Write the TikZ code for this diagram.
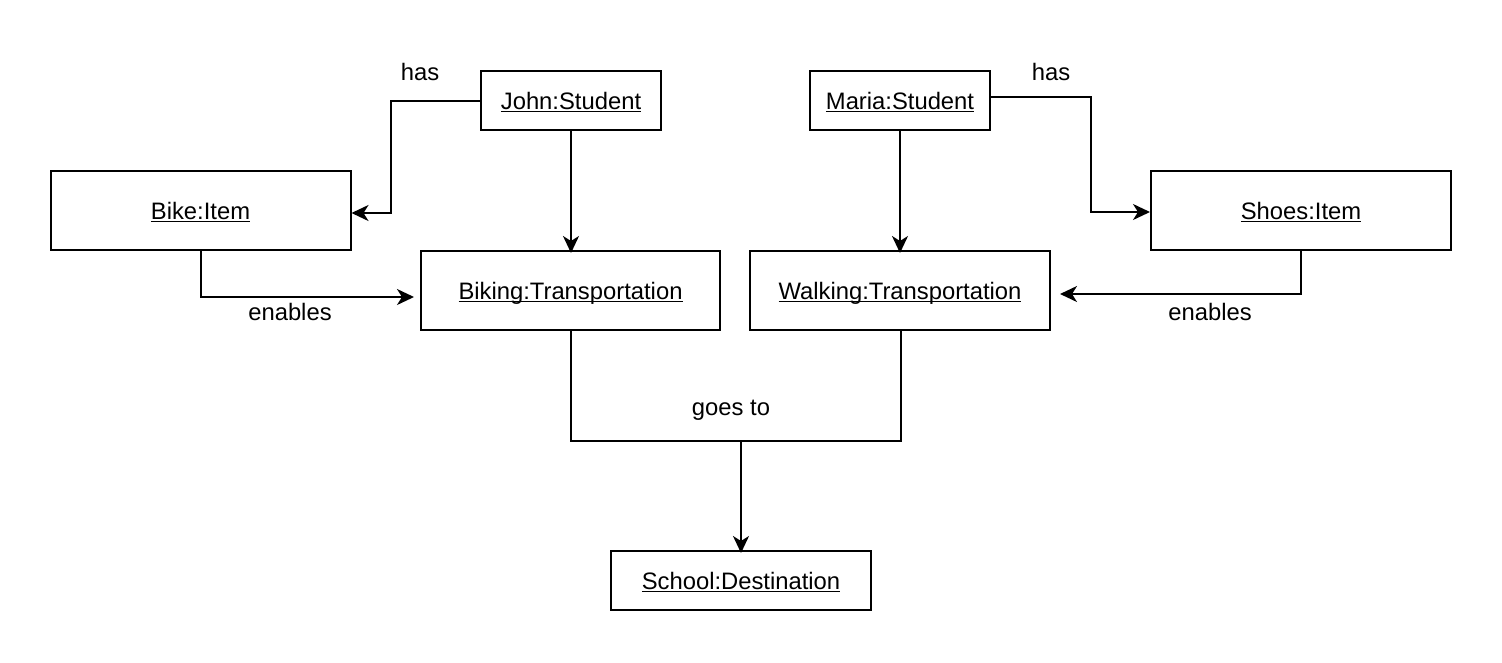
\documentclass[tikz,border=0pt]{standalone}
\usepackage{fontspec}
\setmainfont{Liberation Sans}
\usetikzlibrary{arrows.meta}
\newcommand\ulx[1]{\setbox0\hbox{#1}\rlap{\rule[-3.2pt]{\wd0}{1.7pt}}\box0}
\tikzset{
  obj/.style={draw, line width=2pt, minimum height=59pt, inner sep=0pt, text height=20pt, text depth=3pt, font=\fontsize{23.8}{28}\selectfont},
  lbl/.style={font=\fontsize{23.8}{28}\selectfont, inner sep=0pt},
  conn/.style={line width=2pt, -{Stealth[length=17pt,width=16pt,inset=5pt]}},
  plain/.style={line width=2pt}
}
\begin{document}
\begin{tikzpicture}[x=1pt,y=-1pt]
\useasboundingbox (0,0) rectangle (1502,662);
\node[obj, minimum width=180pt] (john) at (571,100.5) {\ulx{John:Student}};
\node[obj, minimum width=180pt] (maria) at (900,100.5) {\ulx{Maria:Student}};
\node[obj, minimum width=300pt, minimum height=79pt] (bike) at (200.5,210.5) {\ulx{Bike:Item}};
\node[obj, minimum width=300pt, minimum height=79pt] (shoes) at (1301,210.5) {\ulx{Shoes:Item}};
\node[obj, minimum width=299pt, minimum height=79pt] (biking) at (570.5,290.5) {\ulx{Biking:Transportation}};
\node[obj, minimum width=300pt, minimum height=79pt] (walking) at (900,290.5) {\ulx{Walking:Transportation}};
\node[obj, minimum width=260pt] (school) at (741,580.5) {\ulx{School:Destination}};
\coordinate (jb1) at (391,101);
\coordinate (jb2) at (391,213);
\coordinate (ms1) at (1091,97);
\coordinate (ms2) at (1091,212);
\coordinate (bb1) at (201,297);
\coordinate (sw1) at (1301,294);
\coordinate (g1) at (571,441);
\coordinate (g2) at (901,441);
\coordinate (g3) at (741,441);
\draw[conn] (john.west |- jb1) -- (jb1) -- (jb2) -- (bike.east |- jb2);
\draw[conn] (john.south) -- ([yshift=-3pt]biking.north -| john.south);
\draw[conn] (maria.south) -- ([yshift=-3pt]walking.north -| maria.south);
\draw[conn] (maria.east |- ms1) -- (ms1) -- (ms2) -- (shoes.west |- ms2);
\draw[conn] (bike.south -| bb1) -- (bb1) -- ([xshift=-6pt]biking.west |- bb1);
\draw[conn] (shoes.south -| sw1) -- (sw1) -- ([xshift=9pt]walking.east |- sw1);
\draw[plain] (biking.south -| g1) -- (g1) -- (g2) -- (walking.south -| g2);
\draw[conn] (g3) -- ([yshift=-3pt]school.north);
\node[lbl] (has1) at (420,72) {has};
\node[lbl] (has2) at (1051,72) {has};
\node[lbl] (en1) at (290,312) {enables};
\node[lbl] (en2) at (1210,312) {enables};
\node[lbl] (goes) at (731,410) {goes to};
\end{tikzpicture}
\end{document}
